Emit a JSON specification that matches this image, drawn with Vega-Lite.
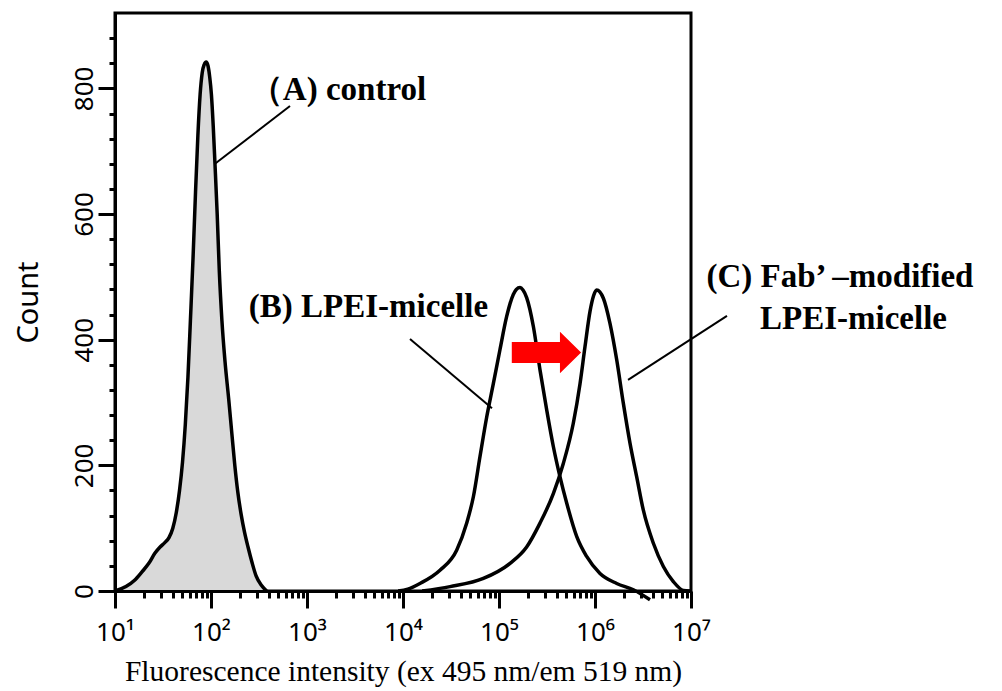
{
  "$schema": "https://vega.github.io/schema/vega-lite/v6.json",
  "autosize": {"type": "none"},
  "width": 576,
  "height": 578,
  "padding": {"left": 115, "top": 13, "right": 311, "bottom": 100},
  "background": "white",
  "config": {
    "view": {"stroke": "black", "strokeWidth": 3},
    "axis": {"grid": false}
  },
  "datasets": {
    "curves": [
      {"s": "A", "x": 10, "y": 0}, {"s": "A", "x": 13, "y": 7}, {"s": "A", "x": 16, "y": 17}, {"s": "A", "x": 19, "y": 30},
      {"s": "A", "x": 22.5, "y": 44}, {"s": "A", "x": 26, "y": 60}, {"s": "A", "x": 29.5, "y": 70}, {"s": "A", "x": 33, "y": 77},
      {"s": "A", "x": 36.5, "y": 85}, {"s": "A", "x": 40, "y": 100}, {"s": "A", "x": 43.5, "y": 125}, {"s": "A", "x": 47, "y": 160},
      {"s": "A", "x": 50.5, "y": 205}, {"s": "A", "x": 54, "y": 265}, {"s": "A", "x": 57.5, "y": 340}, {"s": "A", "x": 61, "y": 430},
      {"s": "A", "x": 65, "y": 530}, {"s": "A", "x": 69, "y": 635}, {"s": "A", "x": 73, "y": 725}, {"s": "A", "x": 77, "y": 790},
      {"s": "A", "x": 81, "y": 825}, {"s": "A", "x": 85, "y": 838}, {"s": "A", "x": 89, "y": 842}, {"s": "A", "x": 93, "y": 836},
      {"s": "A", "x": 97, "y": 818}, {"s": "A", "x": 101, "y": 790}, {"s": "A", "x": 105.5, "y": 740}, {"s": "A", "x": 110, "y": 680},
      {"s": "A", "x": 116, "y": 600}, {"s": "A", "x": 122, "y": 510}, {"s": "A", "x": 130, "y": 430}, {"s": "A", "x": 140, "y": 365},
      {"s": "A", "x": 153, "y": 305}, {"s": "A", "x": 165, "y": 250}, {"s": "A", "x": 177, "y": 200}, {"s": "A", "x": 190, "y": 158},
      {"s": "A", "x": 206, "y": 122}, {"s": "A", "x": 224, "y": 93}, {"s": "A", "x": 243, "y": 70}, {"s": "A", "x": 268, "y": 45},
      {"s": "A", "x": 295, "y": 24}, {"s": "A", "x": 335, "y": 9}, {"s": "A", "x": 380, "y": 0},
      {"s": "B", "x": 8913, "y": 0}, {"s": "B", "x": 11220, "y": 3}, {"s": "B", "x": 15030, "y": 12}, {"s": "B", "x": 24270, "y": 33},
      {"s": "B", "x": 36220, "y": 65}, {"s": "B", "x": 46030, "y": 108}, {"s": "B", "x": 54080, "y": 150}, {"s": "B", "x": 63390, "y": 214},
      {"s": "B", "x": 74470, "y": 277}, {"s": "B", "x": 87300, "y": 330}, {"s": "B", "x": 102300, "y": 384}, {"s": "B", "x": 120200, "y": 437},
      {"s": "B", "x": 140900, "y": 472}, {"s": "B", "x": 151400, "y": 480}, {"s": "B", "x": 165600, "y": 483}, {"s": "B", "x": 177800, "y": 479},
      {"s": "B", "x": 194100, "y": 467}, {"s": "B", "x": 228000, "y": 421}, {"s": "B", "x": 267300, "y": 352}, {"s": "B", "x": 314100, "y": 288},
      {"s": "B", "x": 368100, "y": 230}, {"s": "B", "x": 431500, "y": 182}, {"s": "B", "x": 507000, "y": 140}, {"s": "B", "x": 644200, "y": 87},
      {"s": "B", "x": 818500, "y": 55}, {"s": "B", "x": 1127000, "y": 28}, {"s": "B", "x": 1683000, "y": 12}, {"s": "B", "x": 2512000, "y": 2},
      {"s": "B", "x": 3741000, "y": -14},
      {"s": "C", "x": 15850, "y": 0}, {"s": "C", "x": 30900, "y": 7}, {"s": "C", "x": 68710, "y": 20}, {"s": "C", "x": 130300, "y": 44},
      {"s": "C", "x": 194100, "y": 70}, {"s": "C", "x": 267300, "y": 108}, {"s": "C", "x": 368100, "y": 155}, {"s": "C", "x": 467700, "y": 203},
      {"s": "C", "x": 594300, "y": 267}, {"s": "C", "x": 698200, "y": 330}, {"s": "C", "x": 787000, "y": 389}, {"s": "C", "x": 887200, "y": 445},
      {"s": "C", "x": 966100, "y": 470}, {"s": "C", "x": 1040000, "y": 479}, {"s": "C", "x": 1122000, "y": 476}, {"s": "C", "x": 1222000, "y": 466},
      {"s": "C", "x": 1432000, "y": 426}, {"s": "C", "x": 1683000, "y": 368}, {"s": "C", "x": 1972000, "y": 299}, {"s": "C", "x": 2317000, "y": 235},
      {"s": "C", "x": 2716000, "y": 182}, {"s": "C", "x": 3184000, "y": 129}, {"s": "C", "x": 4055000, "y": 76}, {"s": "C", "x": 5152000, "y": 39},
      {"s": "C", "x": 6546000, "y": 15}, {"s": "C", "x": 8318000, "y": 1}, {"s": "C", "x": 9772000, "y": 0}
    ],
    "leaders": [
      {"x": 110, "y": 680, "x2": 665, "y2": 772},
      {"x": 11830, "y": 401, "x2": 84500, "y2": 291},
      {"x": 2210000, "y": 336, "x2": 23700000, "y2": 438}
    ],
    "labels": [
      {"label": "（A) control", "x": 2104, "y": 781},
      {"label": "(B) LPEI-micelle", "x": 4365, "y": 436},
      {"label": "(C) Fab’ –modified", "x": 356000000, "y": 484},
      {"label": "LPEI-micelle", "x": 493000000, "y": 417}
    ],
    "arrow": [
      {"x": 312000, "y": 379.6}
    ]
  },
  "resolve": {"axis": {"x": "independent", "y": "independent"}},
  "layer": [
    {
      "data": {"name": "curves"},
      "transform": [{"filter": "datum.s === 'A'"}],
      "mark": {"type": "area", "color": "#d9d9d9", "interpolate": "monotone", "opacity": 1},
      "encoding": {
        "x": {
          "field": "x", "type": "quantitative",
          "scale": {"type": "log", "domain": [10, 10000000], "nice": false},
          "axis": {
            "orient": "bottom",
            "values": [10, 100, 1000, 10000, 100000, 1000000, 10000000],
            "labelExpr": "'10' + ['⁰','¹','²','³','⁴','⁵','⁶','⁷'][round(log(datum.value)/LN10)]",
            "tickSize": 17, "tickWidth": 3, "tickColor": "black",
            "domainWidth": 3, "domainColor": "black",
            "labelFont": "Noto Sans", "labelFontSize": 26, "labelColor": "black", "labelPadding": 11,
            "labelFlush": false, "labelOverlap": false,
            "title": "Fluorescence intensity (ex 495 nm/em 519 nm)",
            "titleFont": "Liberation Serif", "titleFontSize": 29.5, "titleFontWeight": "normal", "titleColor": "black",
            "titlePadding": 12, "zindex": 1
          }
        },
        "y": {
          "field": "y", "type": "quantitative",
          "scale": {"domain": [0, 920], "nice": false, "zero": false},
          "axis": {
            "orient": "left",
            "values": [0, 200, 400, 600, 800],
            "tickSize": 17, "tickWidth": 3, "tickColor": "black",
            "domainWidth": 3, "domainColor": "black",
            "labelFont": "Noto Sans", "labelFontSize": 26, "labelColor": "black",
            "labelAngle": -90, "labelAlign": "center", "labelBaseline": "bottom", "labelPadding": 1,
            "labelFlush": false, "labelOverlap": false,
            "title": "Count",
            "titleFont": "Noto Sans", "titleFontSize": 29, "titleFontWeight": "normal", "titleColor": "black",
            "titlePadding": 28, "zindex": 1
          }
        }
      }
    },
    {
      "data": {"name": "curves"},
      "mark": {"type": "line", "color": "black", "strokeWidth": 3.5, "interpolate": "monotone"},
      "encoding": {
        "detail": {"field": "s"},
        "x": {
          "field": "x", "type": "quantitative",
          "scale": {"type": "log", "domain": [10, 10000000], "nice": false},
          "axis": {
            "orient": "bottom",
            "values": [20, 30, 40, 50, 60, 70, 80, 90, 200, 300, 400, 500, 600, 700, 800, 900, 2000, 3000, 4000, 5000, 6000, 7000, 8000, 9000, 20000, 30000, 40000, 50000, 60000, 70000, 80000, 90000, 200000, 300000, 400000, 500000, 600000, 700000, 800000, 900000, 2000000, 3000000, 4000000, 5000000, 6000000, 7000000, 8000000, 9000000],
            "tickSize": 7, "tickWidth": 3, "tickColor": "black",
            "domain": false, "labels": false, "title": null, "zindex": 1
          }
        },
        "y": {
          "field": "y", "type": "quantitative",
          "scale": {"domain": [0, 920], "nice": false, "zero": false},
          "axis": {
            "orient": "left",
            "values": [40, 80, 120, 160, 240, 280, 320, 360, 440, 480, 520, 560, 640, 680, 720, 760, 840, 880],
            "tickSize": 6, "tickWidth": 3, "tickColor": "black",
            "domain": false, "labels": false, "title": null, "zindex": 1
          }
        }
      }
    },
    {
      "data": {"name": "leaders"},
      "mark": {"type": "rule", "color": "black", "strokeWidth": 2},
      "encoding": {
        "x": {"field": "x", "type": "quantitative", "scale": {"type": "log", "domain": [10, 10000000], "nice": false}, "axis": null},
        "y": {"field": "y", "type": "quantitative", "scale": {"domain": [0, 920], "nice": false, "zero": false}, "axis": null},
        "x2": {"field": "x2"},
        "y2": {"field": "y2"}
      }
    },
    {
      "data": {"name": "labels"},
      "mark": {"type": "text", "font": "Liberation Serif", "fontWeight": "bold", "fontSize": 33, "color": "black", "align": "center", "baseline": "alphabetic"},
      "encoding": {
        "x": {"field": "x", "type": "quantitative", "scale": {"type": "log", "domain": [10, 10000000], "nice": false}, "axis": null},
        "y": {"field": "y", "type": "quantitative", "scale": {"domain": [0, 920], "nice": false, "zero": false}, "axis": null},
        "text": {"field": "label"}
      }
    },
    {
      "data": {"name": "arrow"},
      "mark": {"type": "point", "filled": true, "color": "#ff0000", "opacity": 1, "strokeWidth": 0, "size": 4802,
               "shape": "M -1 -0.3 L 0.39 -0.3 L 0.39 -0.6 L 1 0 L 0.39 0.6 L 0.39 0.3 L -1 0.3 Z"},
      "encoding": {
        "x": {"field": "x", "type": "quantitative", "scale": {"type": "log", "domain": [10, 10000000], "nice": false}, "axis": null},
        "y": {"field": "y", "type": "quantitative", "scale": {"domain": [0, 920], "nice": false, "zero": false}, "axis": null}
      }
    }
  ]
}
